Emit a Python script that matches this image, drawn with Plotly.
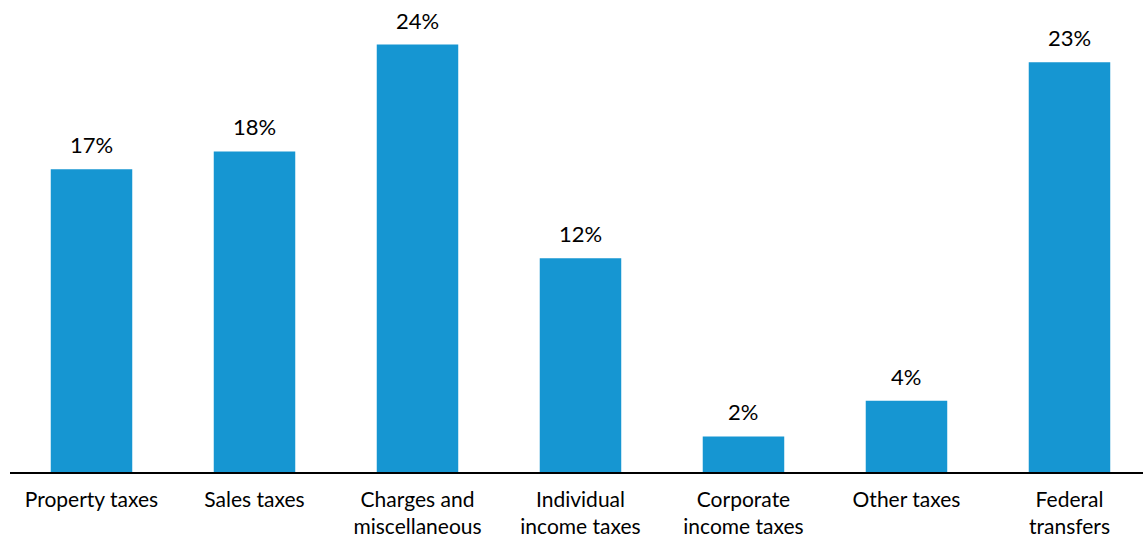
import plotly.graph_objects as go

categories = [
    "Property taxes",
    "Sales taxes",
    "Charges and<br>miscellaneous",
    "Individual<br>income taxes",
    "Corporate<br>income taxes",
    "Other taxes",
    "Federal<br>transfers",
]
shares = [17, 18, 24, 12, 2, 4, 23]

BLUE = "#1696d2"
FONT = "Lato, 'Open Sans', sans-serif"
SIZE = 22
TICK_SIZE = 21

xs = list(range(len(categories)))

fig = go.Figure(
    go.Bar(
        x=xs,
        y=shares,
        width=0.5,
        marker=dict(color=BLUE, line=dict(width=0)),
        hoverinfo="skip",
    )
)

# value labels sitting above each bar
for x, v in zip(xs, shares):
    fig.add_annotation(
        x=x,
        y=v,
        text=f"{v}%",
        showarrow=False,
        yanchor="bottom",
        yshift=9,
        font=dict(family=FONT, size=SIZE, color="#000000"),
    )

fig.update_layout(
    width=1143,
    height=542,
    margin=dict(l=10, r=0, t=0, b=70, autoexpand=False),
    plot_bgcolor="white",
    paper_bgcolor="white",
    showlegend=False,
    font=dict(family=FONT, size=SIZE, color="#000000"),
)

fig.update_xaxes(
    tickmode="array",
    tickvals=xs,
    ticktext=categories,
    range=[-0.5, 6.451],
    showgrid=False,
    zeroline=False,
    showline=True,
    linecolor="#000000",
    linewidth=1.5,
    ticks="",
    tickfont=dict(family=FONT, size=TICK_SIZE, color="#000000"),
    ticklabelstandoff=8,
    automargin=False,
)

fig.update_yaxes(
    range=[0, 26.5],
    showgrid=False,
    zeroline=False,
    showticklabels=False,
    showline=False,
    automargin=False,
)

fig.write_html("out.html")
